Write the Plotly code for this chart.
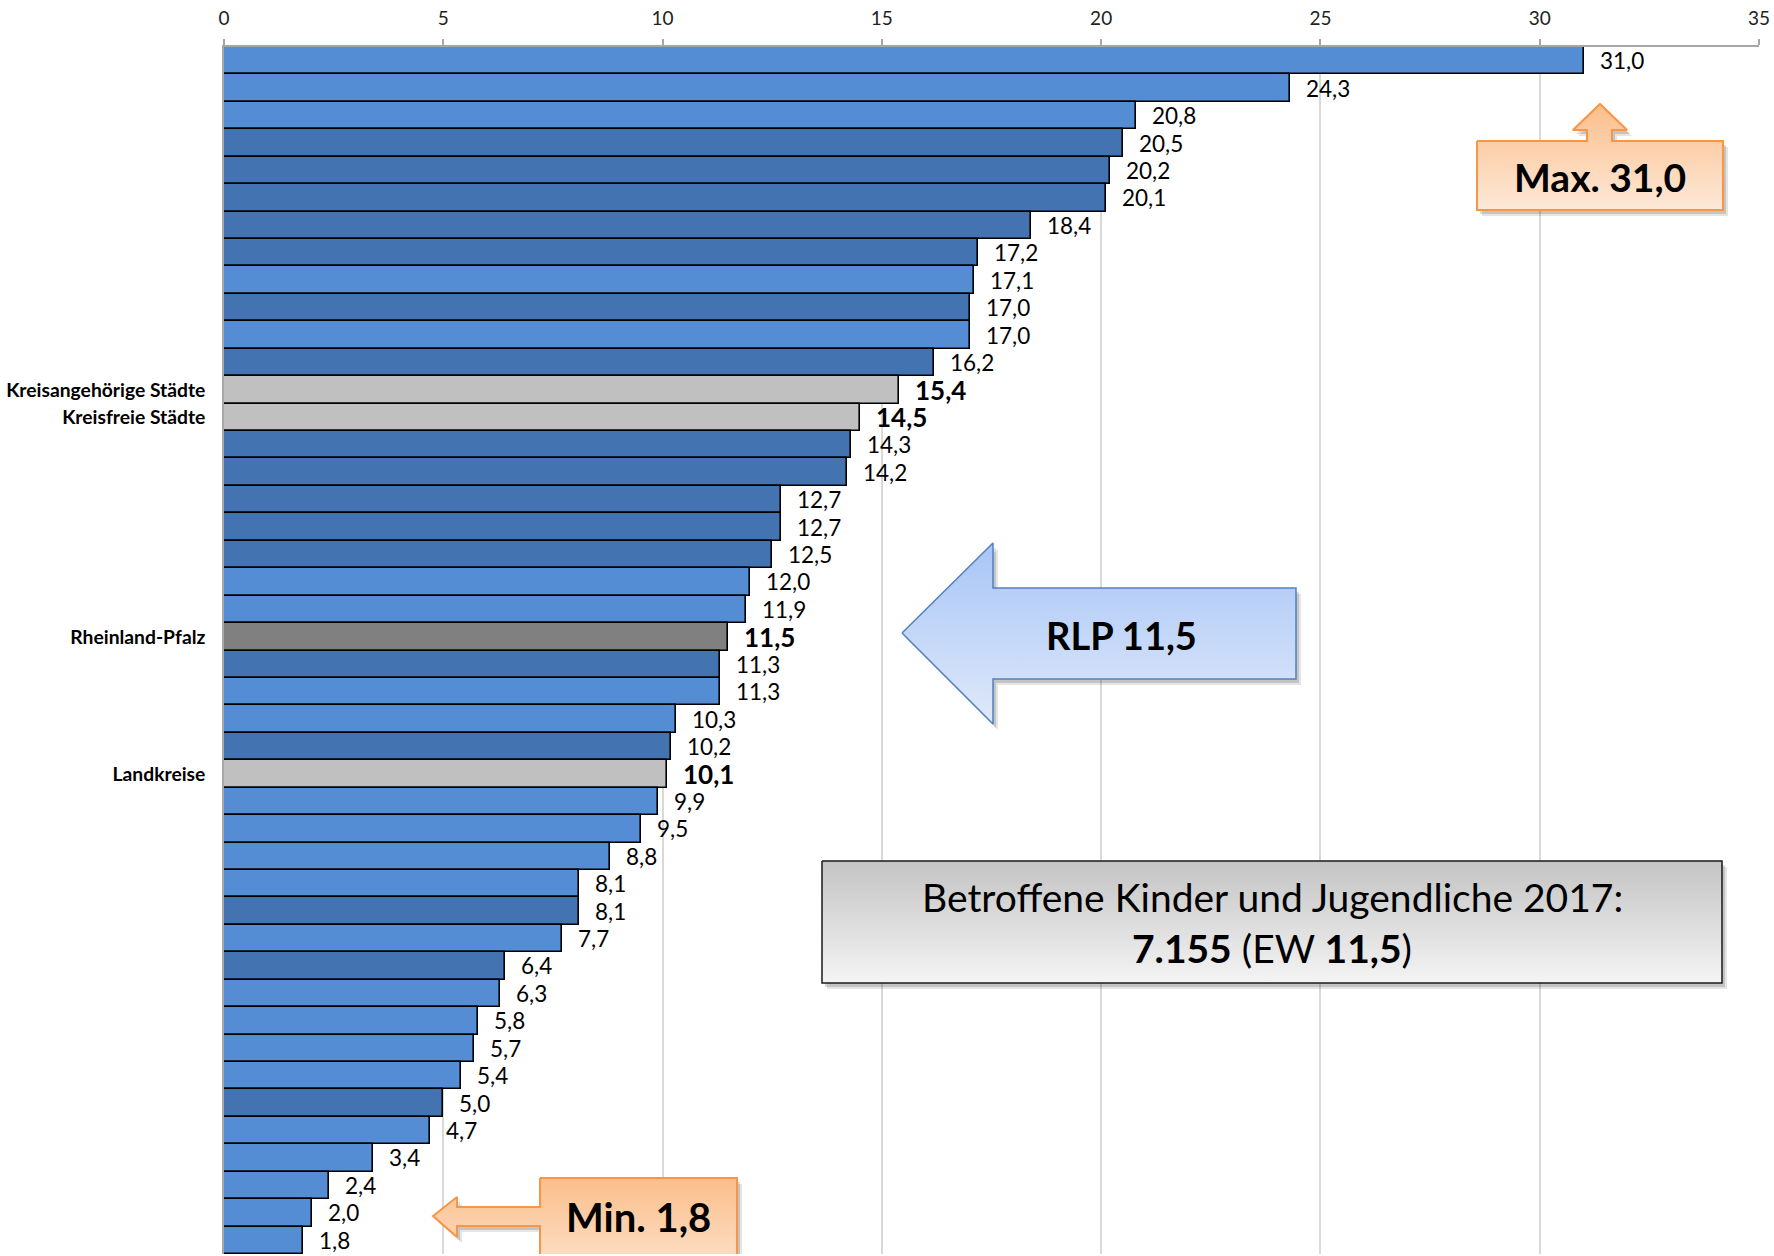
import plotly.graph_objects as go

W, H = 1774, 1256

# Rate per district (sorted descending), type of each entry, and row labels
values = [31.0, 24.3, 20.8, 20.5, 20.2, 20.1, 18.4, 17.2, 17.1, 17.0, 17.0, 16.2,
          15.4, 14.5, 14.3, 14.2, 12.7, 12.7, 12.5, 12.0, 11.9, 11.5, 11.3, 11.3,
          10.3, 10.2, 10.1, 9.9, 9.5, 8.8, 8.1, 8.1, 7.7, 6.4, 6.3, 5.8, 5.7, 5.4,
          5.0, 4.7, 3.4, 2.4, 2.0, 1.8]
kinds = ['L', 'L', 'L', 'S', 'S', 'S', 'S', 'S', 'L', 'S', 'L', 'S',
         'KaS', 'KfS', 'S', 'S', 'S', 'S', 'S', 'L', 'L', 'RLP', 'S', 'L',
         'L', 'S', 'LK', 'L', 'L', 'L', 'L', 'S', 'L', 'S', 'L', 'L', 'L', 'L',
         'S', 'L', 'L', 'L', 'L', 'L']
row_labels = ([""] * 12 + ["Kreisangehörige Städte", "Kreisfreie Städte"] + [""] * 7
              + ["Rheinland-Pfalz"] + [""] * 4 + ["Landkreise"] + [""] * 17)
x_ticks = [0, 5, 10, 15, 20, 25, 30, 35]
total_cases = 7155
year = 2017

kind_colors = {'L': '#548DD4', 'S': '#4373B0', 'KaS': '#C0C0C0', 'KfS': '#C0C0C0',
               'LK': '#C0C0C0', 'RLP': '#808080'}
summary_kinds = {'KaS', 'KfS', 'LK', 'RLP'}

FONT = "Lato"
L_M, R_M, T_M, B_M = 224, 15, 47, 2


def de(v):
    return f"{v:.1f}".replace('.', ',')


def de_int(n):
    return f"{n:,}".replace(',', '.')


idx = list(range(len(values)))
fig = go.Figure()

fig.add_trace(go.Bar(
    x=values, y=idx, orientation='h',
    marker=dict(color=[kind_colors[k] for k in kinds], line=dict(color='black', width=1.6)),
    hoverinfo='skip', showlegend=False,
))

annotations = []
for i, (v, k) in enumerate(zip(values, kinds)):
    bold = k in summary_kinds
    annotations.append(dict(
        x=v, y=i, xref='x', yref='y', xanchor='left', yanchor='middle',
        xshift=14, showarrow=False,
        text=f"<b>{de(v)}</b>" if bold else de(v),
        font=dict(family=FONT, size=26 if bold else 22.5, color='black'),
    ))

# Callout shapes drawn on a pixel-scaled overlay axis pair
def poly(pts, top_color, bottom_color, line_color, line_width, shadow=True):
    xs = [p[0] for p in pts] + [pts[0][0]]
    ys = [p[1] for p in pts] + [pts[0][1]]
    if shadow:
        for dx, dy, a in [(5, 6, 0.10), (3, 4, 0.14)]:
            fig.add_trace(go.Scatter(
                x=[x + dx for x in xs], y=[y + dy for y in ys], xaxis='x2', yaxis='y2',
                mode='lines', line=dict(width=0), fill='toself',
                fillcolor=f'rgba(0,0,0,{a})', hoverinfo='skip', showlegend=False))
    fig.add_trace(go.Scatter(
        x=xs, y=ys, xaxis='x2', yaxis='y2', mode='lines',
        line=dict(color=line_color, width=line_width), fill='toself',
        fillgradient=dict(type='vertical', colorscale=[[0, top_color], [1, bottom_color]]),
        hoverinfo='skip', showlegend=False))


vmax = max(values)
vmin = min(values)
rlp_value = values[kinds.index('RLP')]

# Max callout (arrow pointing up)
poly([(1477, 141), (1587, 141), (1587, 130), (1573, 130), (1600, 104), (1627, 130),
      (1612, 130), (1612, 141), (1723, 141), (1723, 210), (1477, 210)],
     '#FDE9D9', '#FBBE8A', '#F79646', 2)
# RLP arrow (pointing left)
poly([(902, 633), (993, 543), (993, 588), (1296, 588), (1296, 679), (993, 679), (993, 724)],
     '#DFE9FA', '#A8C5F6', '#4F81BD', 1.5)
# Summary box
poly([(822, 861), (1722, 861), (1722, 983), (822, 983)],
     '#F4F4F4', '#C4C4C4', '#1A1A1A', 1.5)
# Min callout (arrow pointing left)
poly([(540, 1178), (737, 1178), (737, 1290), (540, 1290), (540, 1226), (457, 1226),
      (457, 1237), (433, 1216), (457, 1197), (457, 1207), (540, 1207)],
     '#FDE9D9', '#FBBE8A', '#F79646', 2)

def label(x, y, text, size):
    annotations.append(dict(x=x, y=y, xref='x2', yref='y2', xanchor='center', yanchor='middle',
                            showarrow=False, text=text,
                            font=dict(family=FONT, size=size, color='black')))

label(1600, 177, f"<b>Max. {de(vmax)}</b>", 39)
label(1121, 635, f"<b>RLP {de(rlp_value)}</b>", 38)
label(638, 1217, f"<b>Min. {de(vmin)}</b>", 40)
label(1272, 897, f"Betroffene Kinder und Jugendliche {year}:", 39)
label(1272, 948, f"<b>{de_int(total_cases)}</b> (EW <b>{de(rlp_value)}</b>)", 39)

named = [i for i, t in enumerate(row_labels) if t]

fig.update_layout(
    width=W, height=H,
    margin=dict(l=L_M, r=R_M, t=T_M, b=B_M),
    paper_bgcolor='white', plot_bgcolor='white',
    bargap=0.0,
    font=dict(family=FONT, color='black'),
    annotations=annotations,
    xaxis=dict(
        side='top', range=[0, 35], tickvals=x_ticks, ticks='outside', ticklen=6,
        tickcolor='#A6A6A6', tickwidth=1.5, showline=True, linecolor='#A6A6A6', linewidth=2,
        showgrid=True, gridcolor='#D9D9D9', gridwidth=1.5, zeroline=False,
        tickfont=dict(family=FONT, size=19, color='#222'), ticklabelstandoff=6,
        automargin=False, fixedrange=True,
    ),
    yaxis=dict(
        range=[len(values) - 0.5, -0.5], tickvals=named,
        ticktext=[f"<b>{row_labels[i]}</b>" for i in named],
        tickfont=dict(family=FONT, size=19.3, color='black'), ticks='', ticklabelstandoff=13,
        showline=True, linecolor='#A6A6A6', linewidth=1.5, showgrid=False, zeroline=False,
        automargin=False, fixedrange=True,
    ),
    xaxis2=dict(overlaying='x', range=[L_M, W - R_M], visible=False, fixedrange=True),
    yaxis2=dict(overlaying='y', range=[H - B_M, T_M], visible=False, fixedrange=True),
)

fig.write_html("out.html")
